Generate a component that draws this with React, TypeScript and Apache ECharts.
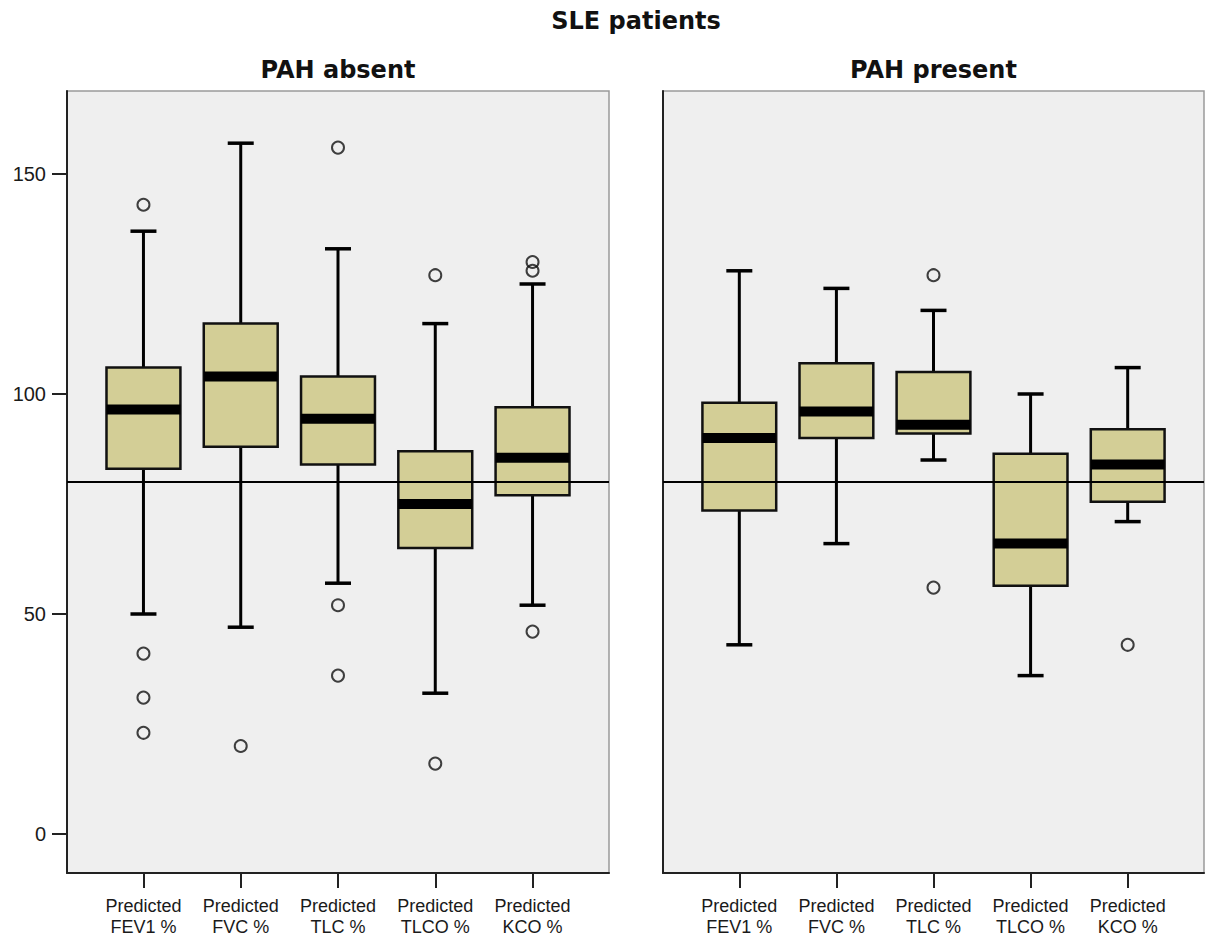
import React, { useEffect, useRef } from "react";
import * as echarts from "echarts";

// ---------- data ----------
const categories = [
  "Predicted\nFEV1 %",
  "Predicted\nFVC %",
  "Predicted\nTLC %",
  "Predicted\nTLCO %",
  "Predicted\nKCO %",
];

const mainTitle = "SLE patients";
const panelTitles = ["PAH absent", "PAH present"];

// PAH absent
const absentLow = [50, 47, 57, 32, 52];
const absentQ1 = [83, 88, 84, 65, 77];
const absentMedian = [96.5, 104, 94.4, 75, 85.5];
const absentQ3 = [106, 116, 104, 87, 97];
const absentHigh = [137, 157, 133, 116, 125];
const absentOutliers: number[][] = [
  [143, 41, 31, 23],
  [20],
  [156, 52, 36],
  [127, 16],
  [130, 128, 46],
];

// PAH present
const presentLow = [43, 66, 85, 36, 71];
const presentQ1 = [73.5, 90, 91, 56.4, 75.5];
const presentMedian = [90, 96, 93, 66, 84];
const presentQ3 = [98, 107, 105, 86.4, 92];
const presentHigh = [128, 124, 119, 100, 106];
const presentOutliers: number[][] = [[], [], [127, 56], [], [43]];

const yTicks = [0, 50, 100, 150];
const yMin = -8.86;
const yMax = 168.86;
const referenceValue = 80;

// ---------- styles / layout ----------
const AXIS_FONT = "'Liberation Sans', Arial, sans-serif";
const TITLE_FONT = "'DejaVu Sans', 'Liberation Sans', sans-serif";
const BOX_FILL = "#d3ce96";
const PLOT_BG = "#efefef";
const DARK = "#222";

const PANEL_TOP = 91;
const PANEL_H = 782;
const PANEL_PAD = 0.786; // category units between frame edge and first/last centre
const panels = [
  { left: 67, width: 542 },
  { left: 663, width: 541 },
];

export default function App() {
  const ref = useRef<HTMLDivElement>(null);

  useEffect(() => {
    if (!ref.current) return;
    const chart = echarts.init(ref.current, undefined, { renderer: "svg" });
    const n = categories.length;

    const sets = [
      { low: absentLow, q1: absentQ1, med: absentMedian, q3: absentQ3, high: absentHigh, out: absentOutliers },
      { low: presentLow, q1: presentQ1, med: presentMedian, q3: presentQ3, high: presentHigh, out: presentOutliers },
    ];

    const grids: any[] = [];
    const xAxes: any[] = [];
    const yAxes: any[] = [];
    const series: any[] = [];
    const graphics: any[] = [];

    panels.forEach((p, pi) => {
      const spacing = p.width / (n - 1 + 2 * PANEL_PAD);
      // frame grid (index pi)
      grids[pi] = {
        left: p.left,
        top: PANEL_TOP,
        width: p.width,
        height: PANEL_H,
        show: true,
        backgroundColor: PLOT_BG,
        borderColor: "#9a9a9a",
        borderWidth: 1.5,
      };
      // label grid (index pi + 2)
      grids[pi + 2] = {
        left: p.left + (PANEL_PAD - 0.5) * spacing,
        top: PANEL_TOP,
        width: n * spacing,
        height: PANEL_H,
        show: false,
      };

      xAxes[pi] = {
        gridIndex: pi,
        type: "value",
        min: -PANEL_PAD,
        max: n - 1 + PANEL_PAD,
        axisLine: { show: true, onZero: false, lineStyle: { color: DARK, width: 2 } },
        axisTick: { show: false },
        axisLabel: { show: false },
        splitLine: { show: false },
      };
      xAxes[pi + 2] = {
        gridIndex: pi + 2,
        type: "category",
        data: categories,
        boundaryGap: true,
        position: "bottom",
        axisLine: { show: false, onZero: false },
        axisTick: { show: true, alignWithLabel: true, length: 15, lineStyle: { color: DARK, width: 2 } },
        axisLabel: {
          interval: 0,
          margin: 22,
          fontSize: 18,
          lineHeight: 21,
          fontFamily: AXIS_FONT,
          color: "#1a1a1a",
        },
        splitLine: { show: false },
      };

      yAxes[pi] = {
        gridIndex: pi,
        type: "value",
        min: yMin,
        max: yMax,
        splitNumber: 3,
        axisLine: { show: true, onZero: false, lineStyle: { color: DARK, width: 2 } },
        axisTick:
          pi === 0
            ? { show: true, length: 15, customValues: yTicks, lineStyle: { color: DARK, width: 2 } }
            : { show: false },
        axisLabel:
          pi === 0
            ? { show: true, customValues: yTicks, margin: 21, fontSize: 20, fontFamily: AXIS_FONT, color: "#1a1a1a" }
            : { show: false },
        splitLine: { show: false },
      };
      yAxes[pi + 2] = { gridIndex: pi + 2, type: "value", min: yMin, max: yMax, show: false };

      const s = sets[pi];
      series.push({
        type: "custom",
        xAxisIndex: pi,
        yAxisIndex: pi,
        z: 2,
        data: categories.map((_, i) => [i, s.low[i], s.q1[i], s.med[i], s.q3[i], s.high[i]]),
        encode: { x: 0, y: [1, 2, 3, 4, 5] },
        renderItem: (params: any, api: any) => {
          const xi = api.value(0);
          const pLow = api.coord([xi, api.value(1)]);
          const pQ1 = api.coord([xi, api.value(2)]);
          const pMed = api.coord([xi, api.value(3)]);
          const pQ3 = api.coord([xi, api.value(4)]);
          const pHigh = api.coord([xi, api.value(5)]);
          const cx = pLow[0];
          const unit = api.size([1, 0])[0];
          const bw = unit * 0.76;
          const cap = 13;
          const lineStyle = { stroke: "#000", lineWidth: 3 };
          return {
            type: "group",
            children: [
              { type: "line", shape: { x1: cx, y1: pLow[1], x2: cx, y2: pQ1[1] }, style: lineStyle },
              { type: "line", shape: { x1: cx, y1: pQ3[1], x2: cx, y2: pHigh[1] }, style: lineStyle },
              { type: "line", shape: { x1: cx - cap, y1: pLow[1], x2: cx + cap, y2: pLow[1] }, style: { stroke: "#000", lineWidth: 3.5 } },
              { type: "line", shape: { x1: cx - cap, y1: pHigh[1], x2: cx + cap, y2: pHigh[1] }, style: { stroke: "#000", lineWidth: 3.5 } },
              {
                type: "rect",
                shape: { x: cx - bw / 2, y: pQ3[1], width: bw, height: pQ1[1] - pQ3[1] },
                style: { fill: BOX_FILL, stroke: "#111", lineWidth: 2.5 },
              },
              {
                type: "rect",
                shape: { x: cx - bw / 2, y: pMed[1] - 5, width: bw, height: 10 },
                style: { fill: "#000" },
              },
            ],
          };
        },
      });

      const outData: number[][] = [];
      s.out.forEach((vals, i) => vals.forEach((v) => outData.push([i, v])));
      series.push({
        type: "scatter",
        xAxisIndex: pi,
        yAxisIndex: pi,
        z: 5,
        symbol: "circle",
        symbolSize: 12,
        itemStyle: { color: "rgba(0,0,0,0)", borderColor: "#111", borderWidth: 2 },
        emphasis: { disabled: true },
        data: outData,
        markLine: {
          silent: true,
          symbol: ["none", "none"],
          label: { show: false },
          lineStyle: { color: "#000", width: 1.8, type: "solid" },
          emphasis: { disabled: true },
          data: [{ yAxis: referenceValue }],
          z: 6,
        },
      });

      graphics.push({
        type: "text",
        x: p.left + p.width / 2,
        y: 70,
        style: {
          text: panelTitles[pi],
          fontFamily: TITLE_FONT,
          fontSize: 24,
          fontWeight: "bold",
          fill: "#111",
          align: "center",
          verticalAlign: "middle",
        },
      });
    });

    graphics.push({
      type: "text",
      x: 636,
      y: 21,
      style: {
        text: mainTitle,
        fontFamily: TITLE_FONT,
        fontSize: 24,
        fontWeight: "bold",
        fill: "#111",
        align: "center",
        verticalAlign: "middle",
      },
    });

    chart.setOption({
      animation: false,
      backgroundColor: "#ffffff",
      grid: grids,
      xAxis: xAxes,
      yAxis: yAxes,
      series,
      graphic: graphics,
    });

    return () => chart.dispose();
  }, []);

  return (
    <div
      ref={ref}
      style={{ position: "absolute", left: 0, top: 0, width: 1206, height: 937, background: "#fff" }}
    />
  );
}
